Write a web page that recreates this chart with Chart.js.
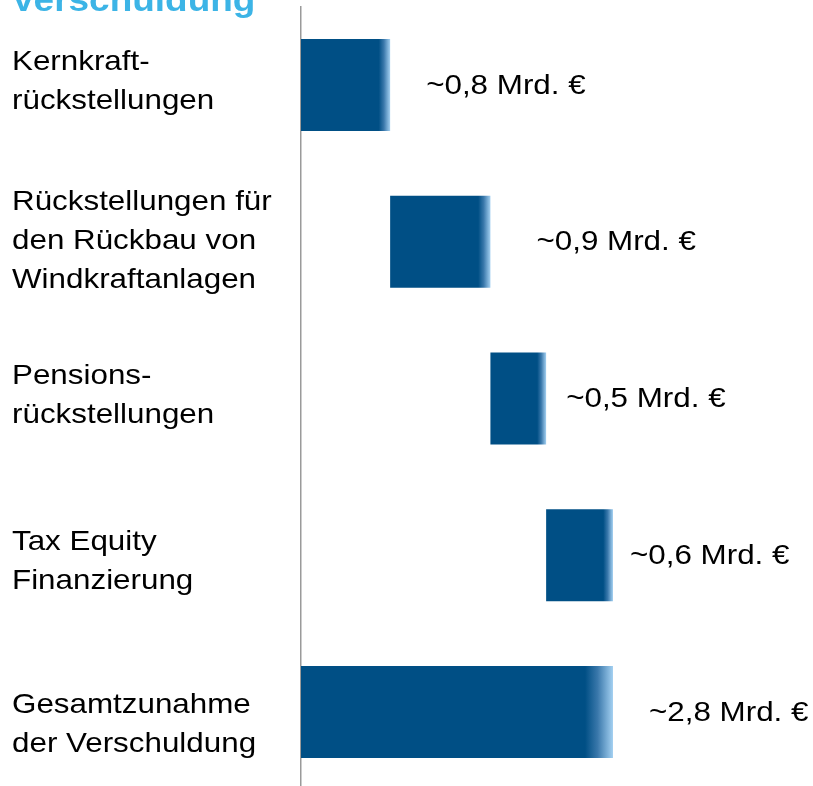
<!DOCTYPE html>
<html>
<head>
<meta charset="utf-8">
<script src="https://cdn.jsdelivr.net/npm/chart.js@4/dist/chart.umd.min.js"></script>
<style>
html,body{margin:0;padding:0;background:#fff;overflow:hidden;}
#wrap{width:813px;height:792px;position:relative;}
</style>
</head>
<body>
<div id="wrap"><canvas id="c" width="813" height="792"></canvas></div>
<script>
// ---- data ----
const titleText = "Verschuldung";
const categories = [
  ["Kernkraft-", "rückstellungen"],
  ["Rückstellungen für", "den Rückbau von", "Windkraftanlagen"],
  ["Pensions-", "rückstellungen"],
  ["Tax Equity", "Finanzierung"],
  ["Gesamtzunahme", "der Verschuldung"]
];
const values = [0.8, 0.9, 0.5, 0.6, 2.8];       // Mrd. €
const isTotal = [false, false, false, false, true];
const valueLabels = ["~0,8 Mrd. €", "~0,9 Mrd. €", "~0,5 Mrd. €", "~0,6 Mrd. €", "~2,8 Mrd. €"];

// build floating ranges (waterfall)
const ranges = [];
let run = 0;
values.forEach((v, i) => {
  if (isTotal[i]) { ranges.push([0, v]); }
  else { ranges.push([run, run + v]); run += v; }
});

// ---- styles ----
const FONT = '28px "Liberation Sans", Arial, sans-serif';
const STRETCH = 1.12;
const DARK = '#004f85';
const LIGHT = '#a3d0f1';
const labelGaps = [36, 46, 20, 17, 36];
const catOffsets = [-3, 0, -3, 7, 13];
const LINE_H = 39;

function barFill(ctx) {
  const chart = ctx.chart;
  const area = chart.chartArea;
  if (!area || ctx.type !== 'data') return DARK;
  const xs = chart.scales.x;
  const r = ranges[ctx.dataIndex];
  const x0 = xs.getPixelForValue(r[0]);
  const x1 = xs.getPixelForValue(r[1]);
  const w = x1 - x0;
  const fade = 4.8 + 0.074 * w;
  const g = chart.ctx.createLinearGradient(x0, 0, x1, 0);
  const s = Math.max(0, (w - fade) / w);
  g.addColorStop(0, DARK);
  g.addColorStop(s, DARK);
  g.addColorStop(s + (1 - s) * 0.45, '#3a78ab');
  g.addColorStop(1, LIGHT);
  return g;
}

function stretchText(c, t, x, y) {
  c.save();
  c.translate(x, y);
  c.scale(STRETCH, 1);
  c.fillText(t, 0, 0);
  c.restore();
}

const textPlugin = {
  id: 'texts',
  afterDatasetsDraw(chart) {
    const c = chart.ctx;
    const ys = chart.scales.y;
    const xs = chart.scales.x;
    c.save();
    // title (cut off at top)
    c.font = 'bold 33px "Liberation Sans", Arial, sans-serif';
    c.fillStyle = '#3cb4e6';
    c.textAlign = 'left';
    c.textBaseline = 'alphabetic';
    stretchText(c, titleText, 11, 11);
    // category labels
    c.font = FONT;
    c.fillStyle = '#000';
    c.textBaseline = 'middle';
    categories.forEach((lines, i) => {
      const cy = ys.getPixelForValue(i) + catOffsets[i];
      const n = lines.length;
      lines.forEach((t, j) => {
        stretchText(c, t, 12, cy + (j - (n - 1) / 2) * LINE_H);
      });
    });
    // value labels
    valueLabels.forEach((t, i) => {
      const x = xs.getPixelForValue(ranges[i][1]) + labelGaps[i];
      stretchText(c, t, x, ys.getPixelForValue(i) + 1);
    });
    c.restore();
  }
};

new Chart(document.getElementById('c'), {
  type: 'bar',
  data: {
    labels: categories.map(l => l.join(' ')),
    datasets: [{
      data: ranges,
      backgroundColor: barFill,
      borderWidth: 0,
      categoryPercentage: 1,
      barPercentage: 0.587
    }]
  },
  options: {
    indexAxis: 'y',
    responsive: false,
    animation: false,
    layout: { padding: { left: 0, right: 10.6, top: 6.6, bottom: 1.6 } },
    plugins: { legend: { display: false }, tooltip: { enabled: false }, title: { display: false } },
    scales: {
      x: {
        display: false,
        min: 0,
        max: 4.5
      },
      y: {
        display: true,
        grid: { display: false, drawTicks: false },
        ticks: { display: false },
        border: { display: true, color: '#9a9a9a', width: 1.5 },
        afterFit(s) { s.width = 301; }
      }
    }
  },
  plugins: [textPlugin]
});
</script>
</body>
</html>
